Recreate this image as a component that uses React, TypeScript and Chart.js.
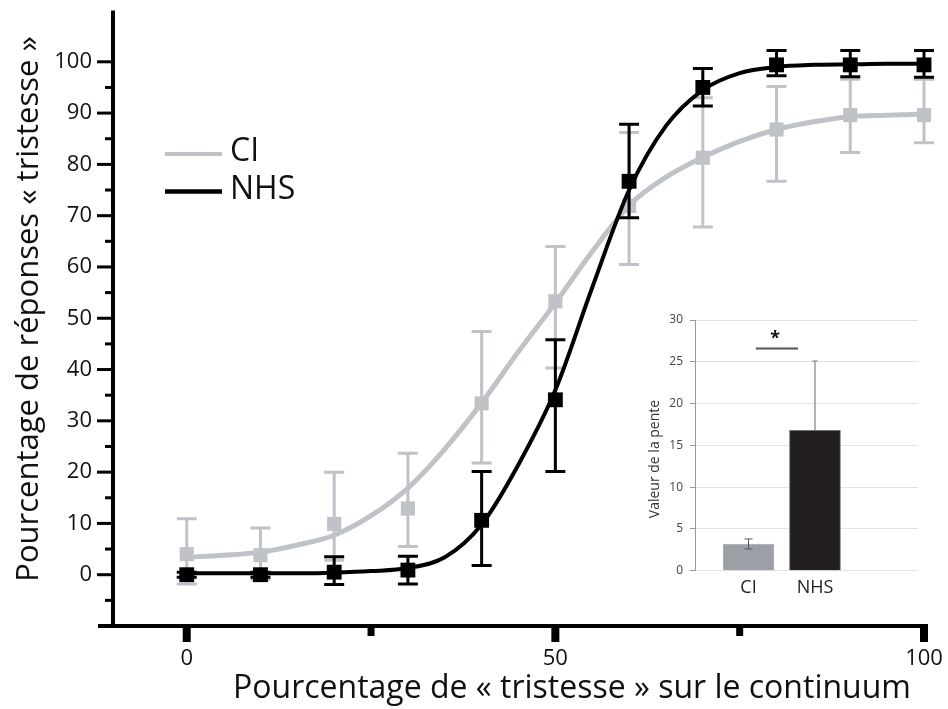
import React, { useEffect, useRef } from 'react';
import { Chart, registerables } from 'chart.js';
Chart.register(...registerables);

// ---------- Main chart data ----------
const stimulusLevels = [0, 10, 20, 30, 40, 50, 60, 70, 80, 90, 100];
const ciMeans = [4.0, 3.8, 9.9, 12.9, 33.4, 53.3, 71.9, 81.3, 86.8, 89.6, 89.6];
const ciUpper = [10.9, 9.1, 20.0, 23.7, 47.4, 64.0, 86.2, 93.0, 95.2, 96.6, 96.6];
const ciLower = [-1.8, -1.0, 2.8, 5.5, 21.8, 40.3, 60.5, 67.8, 76.7, 82.3, 84.2];
const nhsMeans = [0.0, 0.0, 0.5, 0.9, 10.6, 34.1, 76.7, 95.0, 99.4, 99.4, 99.4];
const nhsUpper = [0.5, 0.5, 3.5, 3.6, 20.1, 45.8, 87.8, 98.7, 102.2, 102.2, 102.2];
const nhsLower = [-0.5, -0.5, -1.9, -1.8, 1.8, 20.1, 69.6, 91.4, 97.3, 97.1, 97.0];

// fitted curves
const curveX = [0, 5, 10, 15, 20, 25, 30, 35, 40, 45, 50, 55, 60, 65, 70, 75, 80, 85, 90, 95, 100];
const ciCurve = [3.4, 3.8, 4.4, 5.8, 7.7, 11.5, 16.9, 24.5, 33.5, 43.5, 53.0, 63.0, 72.0, 77.5, 81.4, 84.5, 86.8, 88.3, 89.3, 89.6, 89.8];
const nhsCurve = [0.3, 0.3, 0.3, 0.3, 0.4, 0.7, 1.3, 3.4, 9.8, 21.5, 36.0, 56.0, 75.0, 87.5, 94.5, 97.8, 99.0, 99.4, 99.5, 99.6, 99.6];

const xTickValues = [0, 25, 50, 75, 100];
const xTickLabels = ['0', '', '50', '', '100'];
const yTickValues = [-5, 0, 5, 10, 15, 20, 25, 30, 35, 40, 45, 50, 55, 60, 65, 70, 75, 80, 85, 90, 95, 100];
const yTickLabels = ['', '0', '', '10', '', '20', '', '30', '', '40', '', '50', '', '60', '', '70', '', '80', '', '90', '', '100'];

const seriesNames = ['CI', 'NHS'];
const xTitle = 'Pourcentage de « tristesse » sur le continuum';
const yTitle = 'Pourcentage de réponses « tristesse »';

// ---------- Inset data ----------
const slopeGroups = ['CI', 'NHS'];
const slopeValues = [3.2, 16.8];
const slopeErrLow = [2.6, 16.8];
const slopeErrHigh = [3.8, 25.1];
const slopeTicks = [0, 5, 10, 15, 20, 25, 30];
const slopeTitle = 'Valeur de la pente';
const signifLevel = 26.6;
const signifMark = '*';

const FONT = "'Open Sans', 'Noto Sans', sans-serif";
const GRAY = '#bfc3c8';

const zeroPad = (s: any) => {
  s.paddingTop = 0;
  s.paddingBottom = 0;
  s.paddingLeft = 0;
  s.paddingRight = 0;
};

const errorBarPlugin = {
  id: 'errorBars',
  beforeDatasetDraw(chart: any, args: any) {
    const ds: any = chart.data.datasets[args.index];
    if (!ds.errLow) return;
    const { ctx, scales } = chart;
    const x = scales.x, y = scales.y;
    ctx.save();
    ctx.strokeStyle = ds.errColor;
    ctx.lineWidth = 3;
    ds.data.forEach((p: any, i: number) => {
      const px = x.getPixelForValue(p.x);
      const yl = y.getPixelForValue(ds.errLow[i]);
      const yh = y.getPixelForValue(ds.errHigh[i]);
      ctx.beginPath();
      ctx.moveTo(px, yl); ctx.lineTo(px, yh);
      ctx.moveTo(px - 10, yl); ctx.lineTo(px + 10, yl);
      ctx.moveTo(px - 10, yh); ctx.lineTo(px + 10, yh);
      ctx.stroke();
    });
    ctx.restore();
  },
};

const axesPlugin = {
  id: 'axesDeco',
  beforeDatasetsDraw(chart: any) {
    const { ctx, chartArea: a, scales } = chart;
    const x = scales.x, y = scales.y;
    ctx.save();
    ctx.fillStyle = '#000';
    ctx.fillRect(a.left - 2, a.top, 4, a.bottom - a.top + 2);
    ctx.fillRect(a.left - 15, a.bottom - 2, a.right - a.left + 19, 4);
    y.ticks.forEach((t: any) => {
      const py = y.getPixelForValue(t.value);
      const len = t.value % 10 === 0 ? 16 : 8;
      ctx.fillRect(a.left - len, py - 1.5, len, 3);
    });
    x.ticks.forEach((t: any) => {
      const px = x.getPixelForValue(t.value);
      if (t.value % 50 === 0) ctx.fillRect(px - 4, a.bottom - 2, 8, 18);
      else ctx.fillRect(px - 3.5, a.bottom - 2, 7, 12);
    });
    ctx.restore();
  },
  afterDraw(chart: any) {
    const { ctx } = chart;
    ctx.save();
    ctx.fillStyle = '#111';
    ctx.textBaseline = 'middle';
    ctx.textAlign = 'center';
    ctx.font = `32px ${FONT}`;
    ctx.fillText(xTitle, 572, 689);
    ctx.save();
    ctx.translate(29, 309);
    ctx.rotate(-Math.PI / 2);
    ctx.font = `31px ${FONT}`;
    ctx.fillText(yTitle, 0, 0);
    ctx.restore();
    // legend
    ctx.lineWidth = 4;
    ctx.strokeStyle = GRAY;
    ctx.beginPath(); ctx.moveTo(165, 154); ctx.lineTo(222, 154); ctx.stroke();
    ctx.strokeStyle = '#000';
    ctx.lineWidth = 4.5;
    ctx.beginPath(); ctx.moveTo(165, 191.5); ctx.lineTo(222, 191.5); ctx.stroke();
    ctx.textAlign = 'left';
    ctx.font = `32px ${FONT}`;
    ctx.fillText(seriesNames[0], 230, 152);
    ctx.fillText(seriesNames[1], 230, 190);
    ctx.restore();
  },
};

const insetPlugin = {
  id: 'insetDeco',
  afterDatasetsDraw(chart: any) {
    const { ctx, scales } = chart;
    const x = scales.x, y = scales.y;
    ctx.save();
    // CI error bar
    const cx = x.getPixelForValue(0);
    ctx.strokeStyle = '#555';
    ctx.lineWidth = 1;
    ctx.beginPath();
    ctx.moveTo(cx, y.getPixelForValue(slopeErrLow[0])); ctx.lineTo(cx, y.getPixelForValue(slopeErrHigh[0]));
    ctx.moveTo(cx - 4, y.getPixelForValue(slopeErrLow[0])); ctx.lineTo(cx + 4, y.getPixelForValue(slopeErrLow[0]));
    ctx.moveTo(cx - 4, y.getPixelForValue(slopeErrHigh[0])); ctx.lineTo(cx + 4, y.getPixelForValue(slopeErrHigh[0]));
    ctx.stroke();
    // NHS upper error bar
    const nx = x.getPixelForValue(1);
    ctx.strokeStyle = '#9a9a9a';
    ctx.lineWidth = 1.5;
    ctx.beginPath();
    ctx.moveTo(nx, y.getPixelForValue(slopeErrLow[1])); ctx.lineTo(nx, y.getPixelForValue(slopeErrHigh[1]));
    ctx.moveTo(nx - 2.5, y.getPixelForValue(slopeErrHigh[1])); ctx.lineTo(nx + 2.5, y.getPixelForValue(slopeErrHigh[1]));
    ctx.stroke();
    // significance
    const sy = y.getPixelForValue(signifLevel);
    ctx.strokeStyle = '#555';
    ctx.lineWidth = 2;
    ctx.beginPath();
    ctx.moveTo(x.getPixelForValue(0.11), sy); ctx.lineTo(x.getPixelForValue(0.745), sy);
    ctx.stroke();
    ctx.fillStyle = '#111';
    ctx.font = `bold 18px ${FONT}`;
    ctx.textAlign = 'center';
    ctx.textBaseline = 'middle';
    ctx.fillText(signifMark, x.getPixelForValue(0.4), y.getPixelForValue(27.7));
    // y title
    ctx.font = `14px ${FONT}`;
    ctx.fillStyle = '#333';
    ctx.translate(25, 159);
    ctx.rotate(-Math.PI / 2);
    ctx.fillText(slopeTitle, 0, 0);
    ctx.restore();
  },
};

export default function App() {
  const mainRef = useRef<HTMLCanvasElement>(null);
  const insetRef = useRef<HTMLCanvasElement>(null);

  useEffect(() => {
    const tickFont = { family: FONT, size: 22 };
    const main = new Chart(mainRef.current as HTMLCanvasElement, {
      type: 'line',
      data: {
        datasets: [
          {
            label: 'NHS points',
            type: 'scatter',
            data: stimulusLevels.map((v, i) => ({ x: v, y: nhsMeans[i] })),
            pointStyle: 'rect',
            pointRadius: 10.5,
            backgroundColor: '#000',
            borderColor: '#000',
            borderWidth: 0,
            showLine: false,
            clip: false,
            order: 1,
            errLow: nhsLower,
            errHigh: nhsUpper,
            errColor: '#000',
          } as any,
          {
            label: 'NHS',
            data: curveX.map((v, i) => ({ x: v, y: nhsCurve[i] })),
            borderColor: '#000',
            borderWidth: 4,
            pointRadius: 0,
            cubicInterpolationMode: 'monotone',
            clip: false,
            order: 2,
          },
          {
            label: 'CI points',
            type: 'scatter',
            data: stimulusLevels.map((v, i) => ({ x: v, y: ciMeans[i] })),
            pointStyle: 'rect',
            pointRadius: 10,
            backgroundColor: GRAY,
            borderColor: GRAY,
            borderWidth: 0,
            showLine: false,
            clip: false,
            order: 3,
            errLow: ciLower,
            errHigh: ciUpper,
            errColor: GRAY,
          } as any,
          {
            label: 'CI',
            data: curveX.map((v, i) => ({ x: v, y: ciCurve[i] })),
            borderColor: GRAY,
            borderWidth: 5,
            pointRadius: 0,
            cubicInterpolationMode: 'monotone',
            clip: false,
            order: 4,
          },
        ],
      },
      options: {
        animation: false,
        responsive: false,
        layout: { padding: { top: 10, right: 24, left: 0, bottom: 0 } },
        plugins: { legend: { display: false }, tooltip: { enabled: false } },
        scales: {
          x: {
            type: 'linear',
            min: -10,
            max: 100,
            afterBuildTicks: (s: any) => { s.ticks = xTickValues.map((v) => ({ value: v })); },
            afterFit: (s: any) => { s.height = 83; zeroPad(s); },
            grid: { display: false, drawTicks: false },
            border: { display: false },
            ticks: {
              font: tickFont,
              color: '#111',
              padding: 20,
              maxRotation: 0,
              autoSkip: false,
              callback: (v: any) => xTickLabels[xTickValues.indexOf(Number(v))] ?? '',
            },
          },
          y: {
            type: 'linear',
            min: -10,
            max: 110,
            afterBuildTicks: (s: any) => { s.ticks = yTickValues.map((v) => ({ value: v })); },
            afterFit: (s: any) => { s.width = 113; zeroPad(s); },
            grid: { display: false, drawTicks: false },
            border: { display: false },
            ticks: {
              font: tickFont,
              color: '#111',
              padding: 21,
              autoSkip: false,
              callback: (v: any) => yTickLabels[yTickValues.indexOf(Number(v))] ?? '',
            },
          },
        },
      },
      plugins: [axesPlugin, errorBarPlugin],
    });

    const inset = new Chart(insetRef.current as HTMLCanvasElement, {
      type: 'bar',
      data: {
        datasets: [
          {
            data: slopeValues.map((v, i) => ({ x: i, y: v })),
            backgroundColor: ['#9aa0a5', '#231f20'],
            borderColor: ['#b4b8bc', '#6e6e6e'],
            borderWidth: 1,
            barThickness: 51,
          },
        ],
      },
      options: {
        animation: false,
        responsive: false,
        layout: { padding: { top: 20, right: 12, left: 0, bottom: 0 } },
        plugins: { legend: { display: false }, tooltip: { enabled: false } },
        scales: {
          x: {
            type: 'linear',
            min: -0.805,
            max: 2.55,
            offset: false,
            afterBuildTicks: (s: any) => { s.ticks = slopeGroups.map((_, i) => ({ value: i })); },
            afterFit: (s: any) => { s.height = 39.3; zeroPad(s); },
            grid: { display: false, drawTicks: false, offset: false },
            border: { display: false },
            ticks: {
              font: { family: FONT, size: 18 },
              color: '#222',
              padding: 6,
              maxRotation: 0,
              autoSkip: false,
              callback: (v: any) => slopeGroups[Number(v)] ?? '',
            },
          },
          y: {
            type: 'linear',
            min: 0,
            max: 30,
            afterBuildTicks: (s: any) => { s.ticks = slopeTicks.map((v) => ({ value: v })); },
            afterFit: (s: any) => { s.width = 65; zeroPad(s); },
            grid: { color: '#e3e3e3', lineWidth: 1, drawTicks: true, tickLength: 5, tickColor: '#999' },
            border: { display: true, color: '#999', width: 1 },
            ticks: {
              font: { family: FONT, size: 12 },
              color: '#444',
              padding: 7,
              autoSkip: false,
            },
          },
        },
      },
      plugins: [insetPlugin],
    });

    return () => {
      main.destroy();
      inset.destroy();
    };
  }, []);

  return (
    <div style={{ position: 'fixed', left: 0, top: 0, width: 948, height: 709, background: '#fff' }}>
      <canvas ref={mainRef} width={948} height={709} style={{ position: 'absolute', left: 0, top: 0 }} />
      <canvas ref={insetRef} width={300} height={310} style={{ position: 'absolute', left: 630, top: 300 }} />
    </div>
  );
}
